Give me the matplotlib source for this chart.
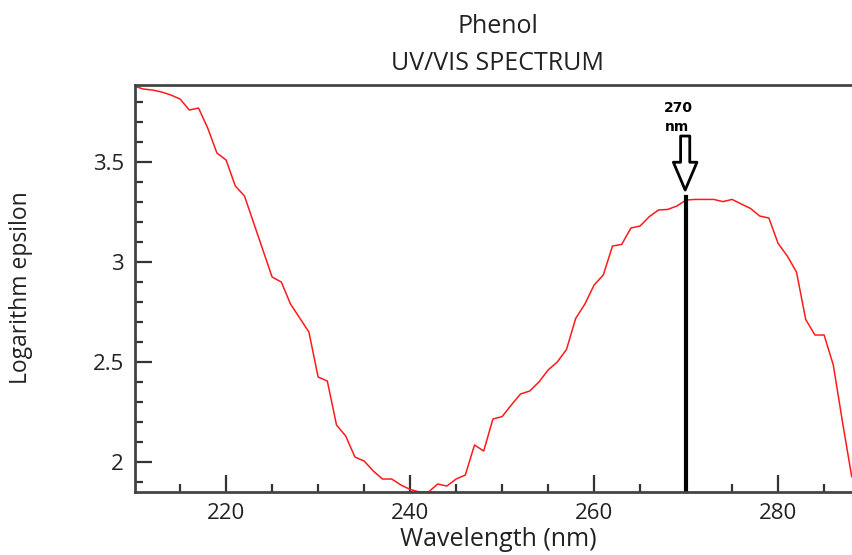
import numpy as np
import matplotlib
matplotlib.use("Agg")
import matplotlib.pyplot as plt
from matplotlib.ticker import MultipleLocator

# absorption spectrum (1 nm steps)
wavelength = np.arange(210, 289)
log_eps = [3.88, 3.865, 3.86, 3.85, 3.835, 3.815, 3.76, 3.77, 3.67, 3.545,
           3.51, 3.38, 3.33, 3.195, 3.06, 2.925, 2.9, 2.79, 2.72, 2.65,
           2.425, 2.405, 2.185, 2.13, 2.025, 2.005, 1.955, 1.915, 1.915, 1.885,
           1.863, 1.85, 1.85, 1.89, 1.88, 1.915, 1.935, 2.085, 2.055, 2.215,
           2.227, 2.285, 2.34, 2.355, 2.40, 2.46, 2.50, 2.563, 2.718, 2.79,
           2.885, 2.935, 3.08, 3.088, 3.17, 3.18, 3.227, 3.26, 3.263, 3.28,
           3.31, 3.313, 3.313, 3.313, 3.302, 3.313, 3.29, 3.268, 3.23, 3.22,
           3.093, 3.03, 2.95, 2.713, 2.635, 2.635, 2.485, 2.2, 1.927]
peak_nm = 270
peak_val = 3.325

plt.rcParams['font.family'] = ['Open Sans', 'DejaVu Sans']
txt = '#222222'

fig = plt.figure(figsize=(8.53, 5.55), dpi=100)
ax = fig.add_axes([0.1583, 0.1135, 0.8488, 0.7333])

ax.plot(wavelength, log_eps, color='#ff1a1a', lw=1.1)

# marker line and arrow for the peak
ax.plot([peak_nm, peak_nm], [1.85, peak_val], color='black', lw=3)
ax.annotate('', xy=(peak_nm - 0.1, 3.36), xytext=(peak_nm - 0.1, 3.63),
            arrowprops=dict(arrowstyle='simple,head_length=1.0,head_width=0.85,tail_width=0.33',
                            fc='white', ec='black', lw=2, mutation_scale=20,
                            shrinkA=0, shrinkB=0))
ax.text(269.2, 3.7725, '270', ha='center', va='center',
        fontsize=10, fontweight='bold', family='DejaVu Sans')
ax.text(269.0, 3.675, 'nm', ha='center', va='center',
        fontsize=10, fontweight='bold', family='DejaVu Sans')

ax.set_xlim(210.1, 288.8)
ax.set_ylim(1.85, 3.885)

ax.xaxis.set_major_locator(MultipleLocator(20))
ax.xaxis.set_minor_locator(MultipleLocator(5))
ax.yaxis.set_major_locator(MultipleLocator(0.5))
ax.yaxis.set_minor_locator(MultipleLocator(0.1))
ax.yaxis.set_major_formatter(plt.FuncFormatter(lambda v, p: '%g' % v))

ax.tick_params(which='both', direction='in', colors='#333333', labelcolor=txt,
               labelsize=16, width=1.6)
ax.tick_params(which='major', length=12, pad=8)
ax.tick_params(which='minor', length=6)

for s in ['left', 'bottom', 'top']:
    ax.spines[s].set_linewidth(2)
    ax.spines[s].set_color('#444444')
ax.spines['right'].set_visible(False)

# titles and axis labels placed like the original export
fig.text(0.5838, 0.9405, 'Phenol', ha='center', va='baseline', fontsize=18, color=txt)
fig.text(0.5838, 0.8739, 'UV/VIS SPECTRUM', ha='center', va='baseline', fontsize=18, color=txt)
fig.text(0.5838, 0.0162, 'Wavelength (nm)', ha='center', va='baseline', fontsize=18, color=txt)
fig.text(0.0246, 0.482, 'Logarithm epsilon', ha='center', va='center', rotation=90,
         fontsize=16.5, color=txt)

plt.savefig('out.png', dpi=100)
